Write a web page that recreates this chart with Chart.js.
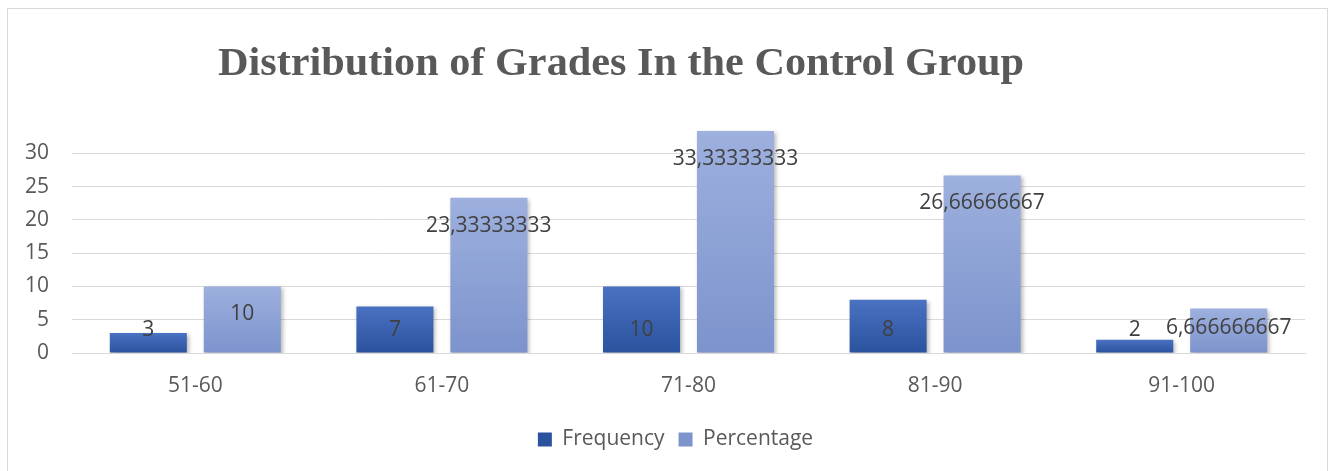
<!DOCTYPE html>
<html>
<head>
<meta charset="utf-8">
<script src="https://cdn.jsdelivr.net/npm/chart.js@4.4.1/dist/chart.umd.min.js"></script>
<style>
    html, body { margin: 0; padding: 0; background: #fff; }
    #wrap { position: relative; width: 1333px; height: 471px; overflow: hidden; }
    #frame { position: absolute; left: 7px; top: 8px; width: 1321px; height: 480px; border: 1px solid #d9d9d9; box-sizing: border-box; }
    canvas { position: absolute; left: 0; top: 0; }
</style>
</head>
<body>
<div id="wrap">
    <div id="frame"></div>
    <canvas id="myChart" width="1333" height="471"></canvas>
</div>
<script>
// dados do gráfico
const chartTitle = 'Distribution of Grades In the Control Group';
const categories = ['51-60', '61-70', '71-80', '81-90', '91-100'];
const frequency = [3, 7, 10, 8, 2];
const percentage = [10, 23.33333333, 33.33333333, 26.66666667, 6.666666667];
const yTicks = [0, 5, 10, 15, 20, 25, 30];

// formata com vírgula como no Excel
function fmt(v) {
    return String(v).replace('.', ',');
}

// gradiente vertical por barra
function barGradient(top, bottom) {
    return function (context) {
        const chart = context.chart;
        const y = chart.scales.y;
        if (!y || context.parsed == null) return bottom;
        const yTop = y.getPixelForValue(context.parsed.y);
        const yBase = y.getPixelForValue(0);
        if (!isFinite(yTop) || !isFinite(yBase) || yTop === yBase) return bottom;
        const g = chart.ctx.createLinearGradient(0, yTop, 0, yBase);
        g.addColorStop(0, top);
        g.addColorStop(1, bottom);
        return g;
    };
}

// sombra leve nas barras
const shadowPlugin = {
    id: 'barShadow',
    beforeDatasetsDraw(chart) {
        const c = chart.ctx;
        c.save();
        c.shadowColor = 'rgba(0,0,0,0.28)';
        c.shadowBlur = 4;
        c.shadowOffsetX = 2;
        c.shadowOffsetY = 2;
    },
    afterDatasetsDraw(chart) {
        chart.ctx.restore();
    }
};

// rótulos de dados
const labelPlugin = {
    id: 'valueLabels',
    afterDatasetsDraw(chart) {
        const c = chart.ctx;
        const y = chart.scales.y;
        c.save();
        c.font = '21px "Open Sans"';
        c.fillStyle = '#404040';
        c.textAlign = 'center';
        c.textBaseline = 'middle';
        chart.data.datasets.forEach(function (ds, i) {
            const meta = chart.getDatasetMeta(i);
            meta.data.forEach(function (bar, j) {
                const v = ds.data[j];
                let pos;
                if (i === 0) {
                    pos = 3.4;
                } else {
                    pos = Math.max(v - 4.2, 3.7);
                }
                c.fillText(fmt(v), bar.x, y.getPixelForValue(pos));
            });
        });
        c.restore();
    }
};

// legenda um pouco à direita, como no original
const legendShift = {
    id: 'legendShift',
    afterLayout(chart) {
        if (chart.legend) {
            chart.legend.left += 23;
            chart.legend.right += 23;
        }
    }
};

// título
const titlePlugin = {
    id: 'serifTitle',
    afterDraw(chart) {
        const c = chart.ctx;
        c.save();
        c.font = 'bold 40px "Liberation Serif"';
        c.fillStyle = '#595959';
        c.textAlign = 'center';
        c.textBaseline = 'alphabetic';
        const w = c.measureText(chartTitle).width;
        const target = 806;
        c.translate(621, 75);
        c.scale(target / w, 1);
        c.fillText(chartTitle, 0, 0);
        c.restore();
    }
};

const ctx = document.getElementById('myChart').getContext('2d');
const myChart = new Chart(ctx, {
    type: 'bar',
    data: {
        labels: categories,
        datasets: [{
            label: 'Frequency',
            data: frequency,
            backgroundColor: barGradient('#4a72c2', '#2b529d'),
            borderWidth: 0,
            categoryPercentage: 0.762,
            barPercentage: 0.82
        }, {
            label: 'Percentage',
            data: percentage,
            backgroundColor: barGradient('#9db0de', '#7d93cc'),
            borderWidth: 0,
            categoryPercentage: 0.762,
            barPercentage: 0.82
        }]
    },
    options: {
        responsive: false,
        animation: false,
        devicePixelRatio: 1,
        layout: {
            padding: { left: 0, right: 28, top: 120, bottom: 11 }
        },
        scales: {
            x: {
                grid: { display: false },
                border: { display: true, color: '#d9d9d9', width: 1 },
                ticks: {
                    color: '#595959',
                    font: { family: '"Open Sans"', size: 21 },
                    padding: 12
                },
                afterFit(scale) { scale.height = 62; }
            },
            y: {
                min: 0,
                max: 35,
                afterBuildTicks(scale) {
                    scale.ticks = yTicks.map(function (v) { return { value: v }; });
                },
                grid: { color: '#d9d9d9', lineWidth: 1, drawTicks: false },
                border: { display: false },
                ticks: {
                    color: '#595959',
                    font: { family: '"Open Sans"', size: 21 },
                    padding: 23
                },
                afterFit(scale) { scale.width = 72; }
            }
        },
        plugins: {
            title: { display: false },
            tooltip: { enabled: false },
            legend: {
                position: 'bottom',
                labels: {
                    color: '#595959',
                    font: { family: '"Open Sans"', size: 21 },
                    boxWidth: 14,
                    boxHeight: 14,
                    padding: 14
                }
            }
        }
    },
    plugins: [shadowPlugin, labelPlugin, legendShift, titlePlugin]
});
</script>
</body>
</html>
